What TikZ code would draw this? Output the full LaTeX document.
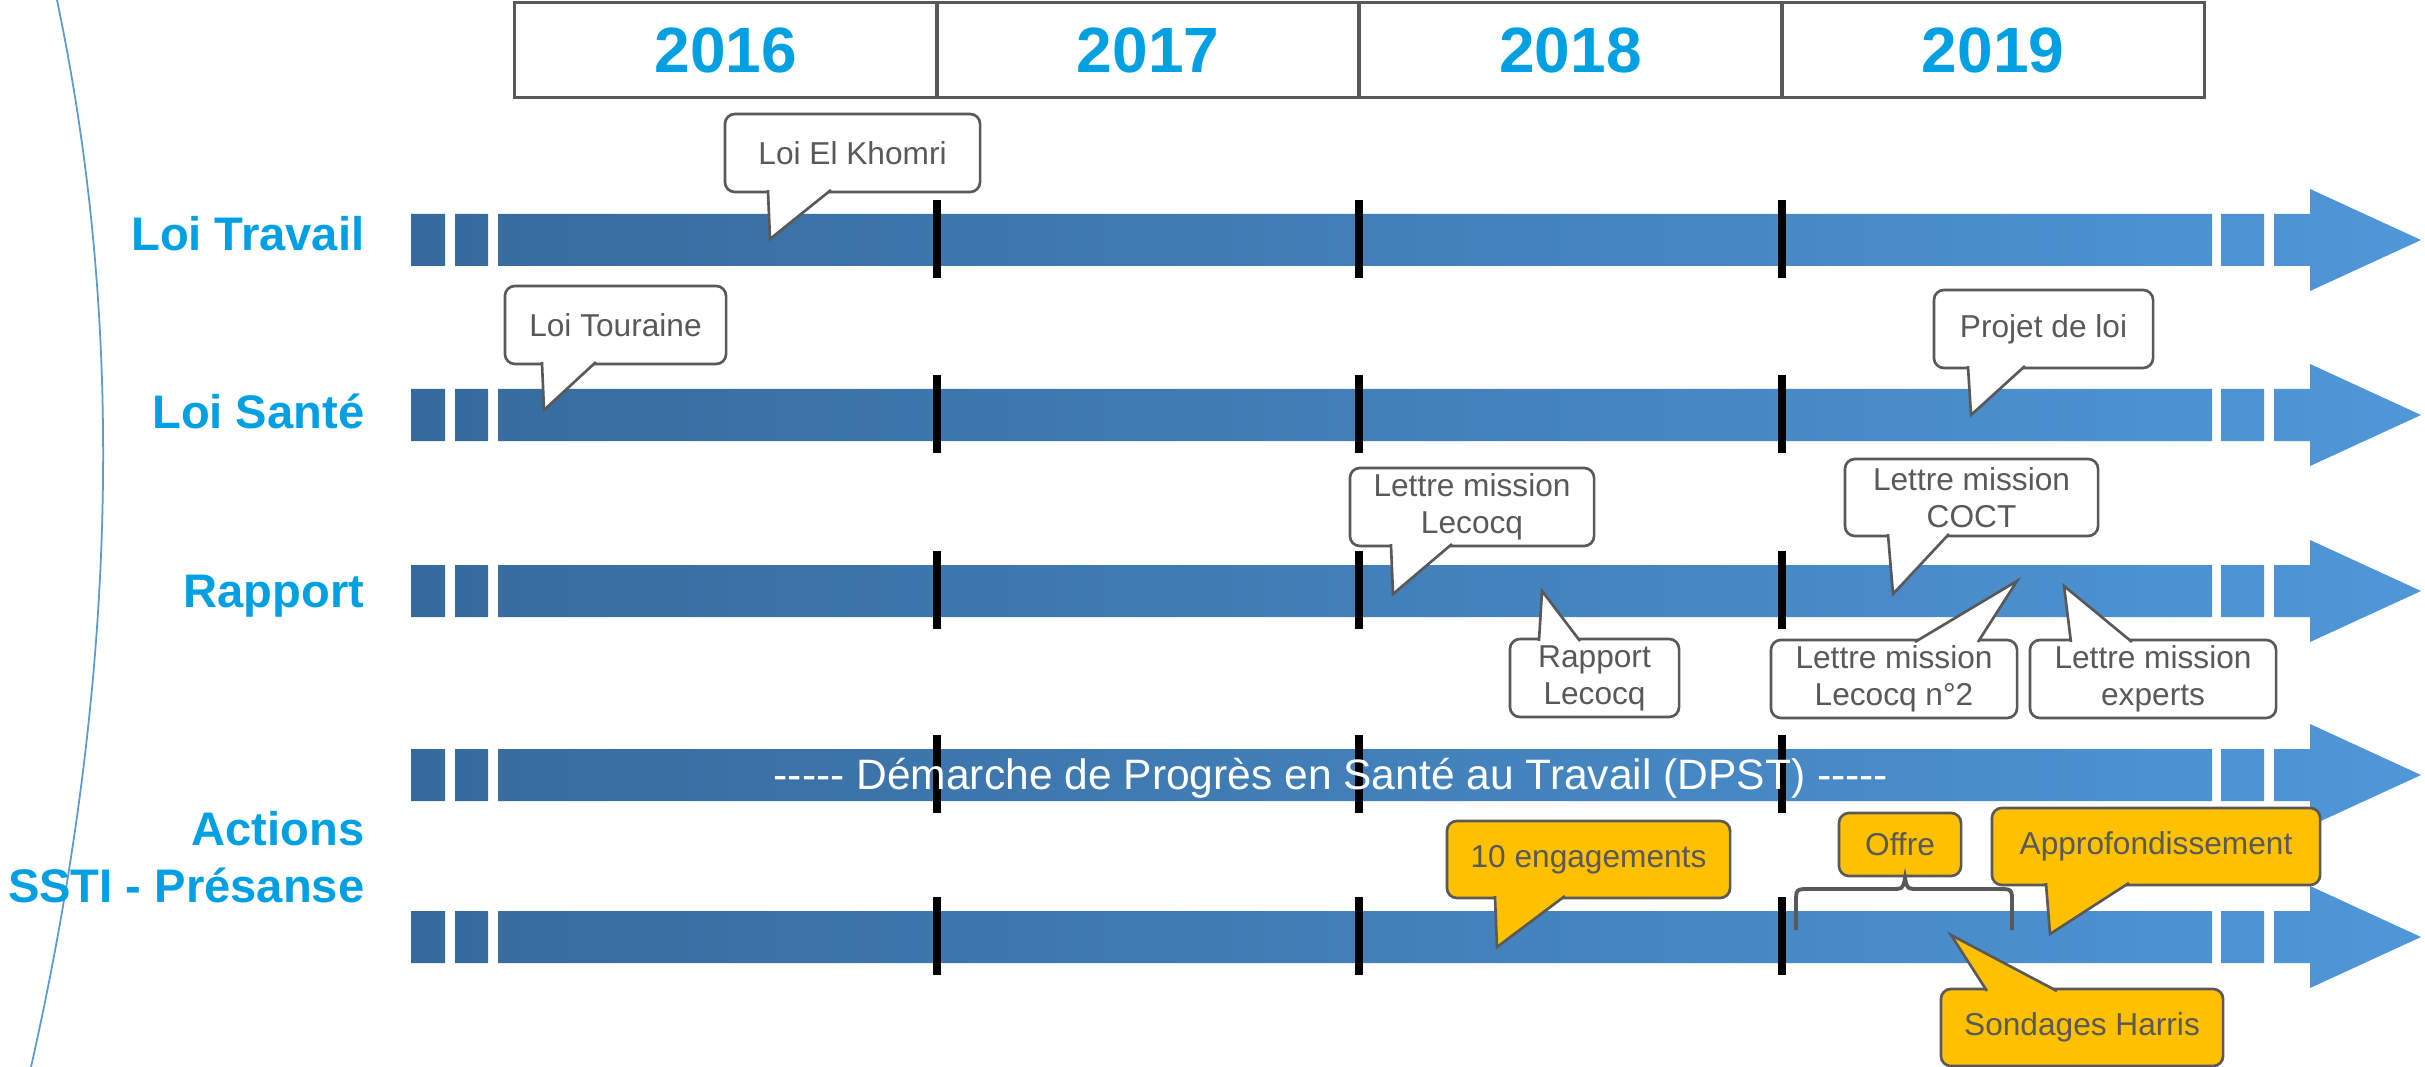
\documentclass[tikz,border=0pt]{standalone}
\usepackage{fontspec}
\setmainfont{Liberation Sans}
\usetikzlibrary{calc}

\begin{document}
\begin{tikzpicture}[x=0.01cm,y=-0.01cm,
	annee/.style={draw=gris,line width=0.85pt,minimum height=0.95cm,inner sep=0pt,outer sep=0pt,text=bleutitre,font=\fontsize{18.2}{22}\selectfont\bfseries},
	titre/.style={inner sep=0pt,text=bleutitre,font=\fontsize{13.4}{16.2}\selectfont\bfseries},
	bulle/.style={draw=gris,fill=white,line width=0.75pt,rounded corners=0.1cm,inner sep=0pt,outer sep=0pt,text=gris,align=center,font=\fontsize{9}{10.5}\selectfont},
	bullejaune/.style={bulle,fill=jaune},
	pointe/.style={draw=gris,fill=white,line width=0.75pt},
	repere/.style={line width=0.08cm},
	barre/.style={left color=barrefonce,right color=barreclair}]
		\definecolor{bleutitre}{RGB}{0,160,227}
		\definecolor{gris}{HTML}{595959}
		\definecolor{jaune}{HTML}{FFC000}
		\definecolor{barrefonce}{HTML}{366A9C}
		\definecolor{barreclair}{HTML}{4F97D8}
		\definecolor{courbe}{HTML}{5B9BD5}
		
		\useasboundingbox (0,0) rectangle (2425,1067);
		
		\draw[courbe,line width=0.5pt] (57,0) .. controls (120,300) and (125,650) .. (31,1067);
		
		% annees
		\node[annee,minimum width=4.22cm] (c2016) at (726,50) {2016};
		\node[annee,minimum width=4.22cm] (c2017) at (1148,50) {2017};
		\node[annee,minimum width=4.23cm] (c2018) at (1570.5,50) {2018};
		\node[annee,minimum width=4.22cm] (c2019) at (1993,50) {2019};
		
		% fleches
		\foreach \y in {240,415,591,775,937} {
			\shade[barre] (411,\y-26) rectangle (445,\y+26)
				(455,\y-26) rectangle (488,\y+26)
				(498,\y-26) rectangle (2212,\y+26)
				(2221,\y-26) rectangle (2264,\y+26)
				(2274,\y-26) -- (2310,\y-26) -- (2310,\y-51) -- (2421,\y) -- (2310,\y+51) -- (2310,\y+26) -- (2274,\y+26) -- cycle;
			\foreach \x in {937,1359,1782}
				\draw[repere] (\x,\y-40) -- (\x,\y+38);
		}
		
		% labels
		\node[titre,anchor=base east] (travail) at (365,251) {Loi Travail};
		\node[titre,anchor=base east] (sante) at (365,429) {Loi Santé};
		\node[titre,anchor=base east] (rapport) at (365,607) {Rapport};
		\node[titre,anchor=east,align=right] (actions) at (365,857) {Actions\\SSTI - Présanse};
		
		\node[text=white,inner sep=0pt,anchor=base,font=\fontsize{12.1}{14}\selectfont] (dpst) at (1331,789)
			{-{}-{}-{}-{}- Démarche de Progrès en Santé au Travail (DPST) -{}-{}-{}-{}-};
		
		% bulles
		\node[bulle,minimum width=2.55cm,minimum height=0.78cm] (khomri) at (852.5,153) {Loi El Khomri};
		\draw[pointe] ($(khomri.south west)+(43,-2)$) -- (770,239) -- ($(khomri.south west)+(106,-2)$);
		
		\node[bulle,minimum width=2.21cm,minimum height=0.78cm] (touraine) at (615.5,325) {Loi Touraine};
		\draw[pointe] ($(touraine.south west)+(37,-2)$) -- (544,410) -- ($(touraine.south west)+(91,-2)$);
		
		\node[bulle,minimum width=2.19cm,minimum height=0.78cm] (projet) at (2043.5,329) {Projet de loi};
		\draw[pointe] ($(projet.south west)+(34,-2)$) -- (1971,415) -- ($(projet.south west)+(91,-2)$);
		
		\node[bulle,minimum width=2.44cm,minimum height=0.78cm] (lmlecocq) at (1472,507) {Lettre mission\\Lecocq};
		\draw[pointe] ($(lmlecocq.south west)+(41,-2)$) -- (1393,594) -- ($(lmlecocq.south west)+(102,-2)$);
		
		\node[bulle,minimum width=2.53cm,minimum height=0.77cm] (lmcoct) at (1971.5,497.5) {Lettre mission\\COCT};
		\draw[pointe] ($(lmcoct.south west)+(43,-2)$) -- (1893,594) -- ($(lmcoct.south west)+(104,-2)$);
		
		\node[bulle,minimum width=1.69cm,minimum height=0.78cm] (rapportlecocq) at (1594.5,678) {Rapport\\Lecocq};
		\draw[pointe] ($(rapportlecocq.north west)+(29,2)$) -- (1542,591) -- ($(rapportlecocq.north west)+(70,2)$);
		
		\node[bulle,minimum width=2.46cm,minimum height=0.78cm] (lmlecocqdeux) at (1894,679) {Lettre mission\\Lecocq n°2};
		\draw[pointe] ($(lmlecocqdeux.north west)+(144,2)$) -- (2017,581) -- ($(lmlecocqdeux.north west)+(207,2)$);
		
		\node[bulle,minimum width=2.46cm,minimum height=0.78cm] (lmexperts) at (2153,679) {Lettre mission\\experts};
		\draw[pointe] ($(lmexperts.north west)+(41,2)$) -- (2064,586) -- ($(lmexperts.north west)+(102,2)$);
		
		% actions
		\node[bullejaune,minimum width=2.83cm,minimum height=0.77cm] (engagements) at (1588.5,859.5) {10 engagements};
		\draw[pointe,fill=jaune] ($(engagements.south west)+(48,-2)$) -- (1497,947) -- ($(engagements.south west)+(118,-2)$);
		
		\node[bullejaune,minimum width=1.22cm,minimum height=0.63cm] (offre) at (1900,844.5) {Offre};
		\coordinate (accg) at (1796,930);
		\coordinate (accd) at (2012,930);
		\draw[gris,line width=1.1pt] (accg) -- (1796,903) .. controls (1796,889) .. (1810,889) -- (1890,889)
			.. controls (1903,889) .. (1905,878) .. controls (1907,889) .. (1920,889) -- (1998,889)
			.. controls (2012,889) .. (2012,903) -- (accd);
		
		\node[bullejaune,minimum width=3.28cm,minimum height=0.77cm] (approf) at (2156,846.5) {Approfondissement};
		\draw[pointe,fill=jaune] ($(approf.south west)+(54,-2)$) -- (2050,934) -- ($(approf.south west)+(137,-2)$);
		
		\node[bullejaune,minimum width=2.82cm,minimum height=0.77cm] (harris) at (2082,1027.5) {Sondages Harris};
		\draw[pointe,fill=jaune] ($(harris.north west)+(46,2)$) -- (1951,935) -- ($(harris.north west)+(116,2)$);
\end{tikzpicture}
\end{document}
